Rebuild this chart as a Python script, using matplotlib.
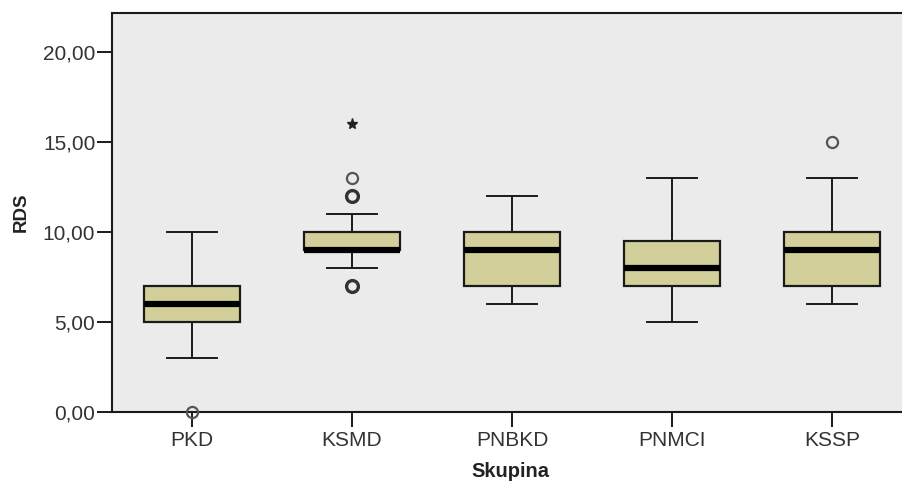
import numpy as np
import matplotlib
matplotlib.use("Agg")
import matplotlib.pyplot as plt

# figure settings
font = {'family': 'Liberation Sans',
        'weight': 'normal',
        'size': 15}
matplotlib.rc('font', **font)

# data
groups = ['PKD', 'KSMD', 'PNBKD', 'PNMCI', 'KSSP']
q1 = [5, 9, 7, 7, 7]
median = [6, 9, 9, 8, 9]
q3 = [7, 10, 10, 9.5, 10]
whis_lo = [3, 8, 6, 5, 6]
whis_hi = [10, 11, 12, 13, 13]
outliers = [[0], [13], [], [], [15]]
# repeated outliers (drawn heavier, as SPSS stacks them)
outliers_multi = [[], [12, 7], [], [], []]
extremes = [[], [16], [], [], []]

yticks = [0, 5, 10, 15, 20]
ytick_labels = ['0,00', '5,00', '10,00', '15,00', '20,00']

box_color = '#d3cf9a'
bg_color = '#ebebeb'

fig = plt.figure(figsize=(9.02, 4.83), dpi=100)
ax = fig.add_axes([112/902., 1 - 411.7/483., 800/902., (411.7 - 13.3)/483.])
ax.set_facecolor(bg_color)

pos = np.arange(len(groups))
stats = []
for i in range(len(groups)):
    stats.append({'med': median[i], 'q1': q1[i], 'q3': q3[i],
                  'whislo': whis_lo[i], 'whishi': whis_hi[i],
                  'fliers': outliers[i], 'label': groups[i]})

ax.bxp(stats, positions=pos, widths=0.6, patch_artist=True,
       boxprops=dict(facecolor=box_color, edgecolor='#1a1a1a', linewidth=1.6),
       medianprops=dict(color='black', linewidth=4.5, solid_capstyle='butt'),
       whiskerprops=dict(color='#1a1a1a', linewidth=1.4),
       capprops=dict(color='#1a1a1a', linewidth=1.4),
       capwidths=0.31,
       flierprops=dict(marker='o', markersize=8, markerfacecolor='none',
                       markeredgecolor='#555555', markeredgewidth=1.6,
                       clip_on=False, zorder=5))

for i in range(len(groups)):
    if outliers_multi[i]:
        ax.plot([pos[i]] * len(outliers_multi[i]), outliers_multi[i], 'o',
                markersize=8.5, markerfacecolor='none', markeredgecolor='#333333',
                markeredgewidth=2.4, zorder=5)
    if extremes[i]:
        ax.plot([pos[i]] * len(extremes[i]), extremes[i], '*',
                markersize=8, color='#222222', zorder=5)

ax.set_xlim(-0.5, len(groups) - 0.5)
ax.set_ylim(0, 22.17)
ax.set_yticks(yticks)
ax.set_yticklabels(ytick_labels)
ax.set_xticks(pos)
ax.set_xticklabels(groups)

for s in ax.spines.values():
    s.set_linewidth(1.5)
    s.set_color('#1a1a1a')
ax.tick_params(axis='both', direction='out', length=11, width=1.4,
               color='#1a1a1a', labelcolor='#333333', pad=1)
ax.tick_params(axis='x', pad=3)

ax.set_ylabel('RDS', fontweight='bold', fontsize=13.5, color='#222222')
ax.yaxis.set_label_coords(-(112 - 30) / 800., 0.5)
ax.set_xlabel('Skupina', fontweight='bold', fontsize=14.5, color='#222222')
ax.xaxis.set_label_coords((510 - 112) / 800., -(462 - 411.7) / 398.4)

plt.savefig('out.png', dpi=100)
